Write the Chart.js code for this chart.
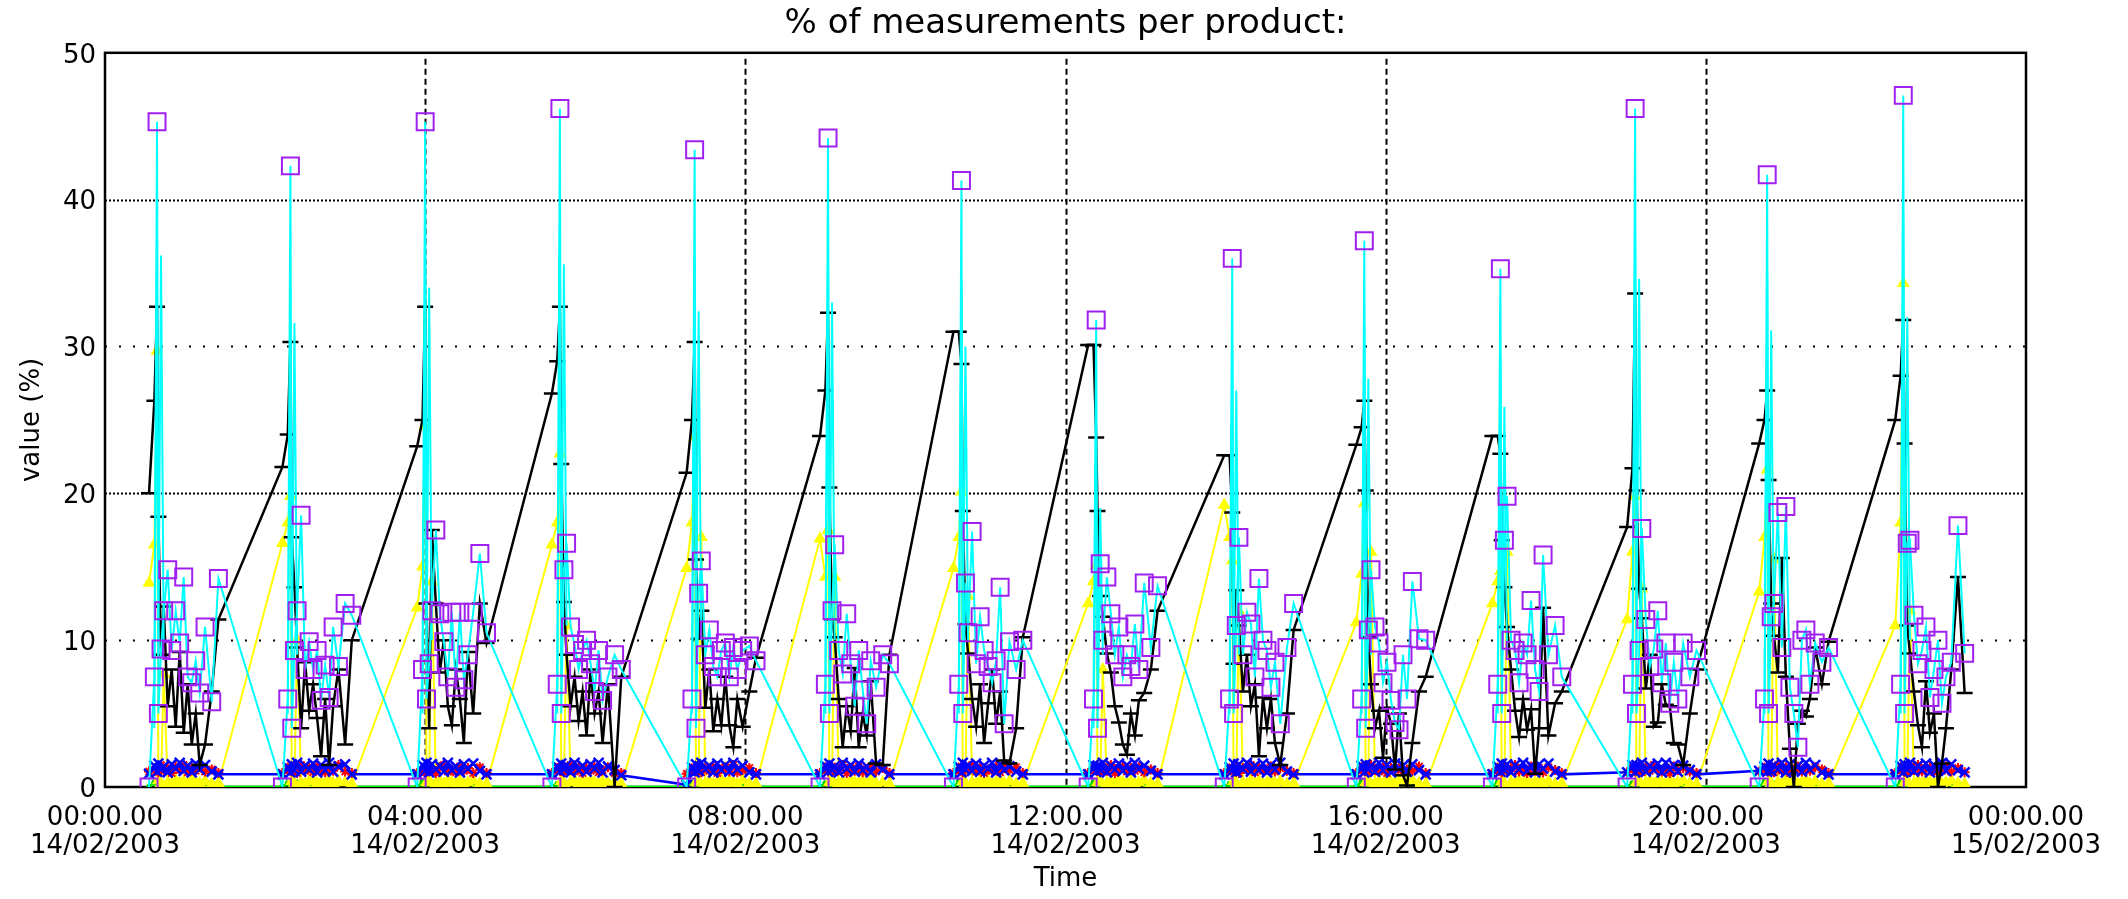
<!DOCTYPE html>
<html>
<head>
<meta charset="utf-8">
<script src="https://cdn.jsdelivr.net/npm/chart.js@4.4.1/dist/chart.umd.min.js"></script>
<style>
  html, body { margin: 0; padding: 0; background: #ffffff; }
  canvas { display: block; }
</style>
</head>
<body>
<canvas id="c" width="2128" height="899"></canvas>
<script>
const _ = null;

// Measurement times, minutes after 00:00 14/02/2003 (one row per burst)
const times = [
  33, 37, 39, 40, 42, 44, 47, 50, 53, 56, 59, 62, 65, 68, 71, 75, 80, 85,
  133, 137, 139, 140, 142, 144, 147, 150, 153, 156, 159, 162, 165, 168, 171, 175, 180, 185,
  234, 238, 240, 241, 243, 245, 248, 251, 254, 257, 260, 263, 266, 269, 272, 276, 281, 286,
  335, 339, 341, 342, 344, 346, 349, 352, 355, 358, 361, 364, 367, 370, 373, 377, 382, 387,
  436, 440, 442, 443, 445, 447, 450, 453, 456, 459, 462, 465, 468, 471, 474, 478, 483, 488,
  536, 540, 542, 543, 545, 547, 550, 553, 556, 559, 562, 565, 568, 571, 574, 578, 583, 588,
  636, 640, 642, 643, 645, 647, 650, 653, 656, 659, 662, 665, 668, 671, 674, 678, 683, 688,
  737, 741, 743, 744, 746, 748, 751, 754, 757, 760, 763, 766, 769, 772, 775, 779, 784, 789,
  839, 843, 845, 846, 848, 850, 853, 856, 859, 862, 865, 868, 871, 874, 877, 881, 886, 891,
  938, 942, 944, 945, 947, 949, 952, 955, 958, 961, 964, 967, 970, 973, 976, 980, 985, 990,
  1040, 1044, 1046, 1047, 1049, 1051, 1054, 1057, 1060, 1063, 1066, 1069, 1072, 1075, 1078, 1082, 1087, 1092,
  1141, 1145, 1147, 1148, 1150, 1152, 1155, 1158, 1161, 1164, 1167, 1170, 1173, 1176, 1179, 1183, 1188, 1193,
  1240, 1244, 1246, 1247, 1249, 1251, 1254, 1257, 1260, 1263, 1266, 1269, 1272, 1275, 1278, 1282, 1287, 1292,
  1342, 1346, 1348, 1349, 1351, 1353, 1356, 1359, 1362, 1365, 1368, 1371, 1374, 1377, 1380, 1384, 1389, 1394
];

// Cyan product (purple square markers)
const cyanPct = [
  0, 7.5, 45.3, 5, 9.4, 12, 14.8, 9.3, 12, 9.8, 14.3, 7.5, 7.1, 8.6, 6.4, 10.9, 5.8, 14.2,
  0, 6, 42.3, 4, 9.3, 12, 18.5, 8.0, 9.9, 8.0, 9.3, 5.9, 8.3, 6.1, 10.9, 8.2, 12.5, 11.7,
  0, 8, 45.3, 6, 8.4, 12, 17.5, 11.8, 9.9, 7.5, 11.9, 6.8, 11.9, 7.3, 9.0, 11.9, 15.9, 10.5,
  0, 7, 46.2, 5, 14.8, 16.6, 10.9, 9.7, 8.0, 9.3, 10.0, 8.4, 6.5, 9.3, 5.9, 7.5, 9.0, 8.0,
  0, 6, 43.4, 4, 13.2, 15.4, 9.0, 10.7, 8.2, 7.5, 9.3, 9.8, 7.5, 9.5, 8.0, 9.3, 9.6, 8.6,
  0, 7, 44.2, 5, 12.0, 16.5, 9.3, 7.7, 11.8, 8.4, 5.5, 9.3, 6.6, 4.3, 8.6, 6.8, 9.0, 8.4,
  0, 7, 41.3, 5, 13.9, 10.5, 17.4, 8.4, 11.6, 9.3, 8.2, 7.1, 8.6, 13.6, 4.3, 9.9, 8.0, 10.0,
  0, 6, 31.8, 4, 15.2, 10.0, 14.3, 11.8, 9.0, 10.9, 7.5, 9.0, 8.2, 11.1, 8.0, 13.9, 9.5, 13.7,
  0, 6, 36.0, 5, 11.0, 17.0, 9.0, 11.9, 11.1, 7.5, 14.2, 10.0, 9.3, 6.8, 8.5, 4.3, 9.5, 12.5,
  0, 6, 37.2, 4, 10.7, 14.8, 10.9, 9.8, 7.1, 8.5, 5.9, 4.4, 3.9, 9.0, 6.0, 14.0, 10.1, 10.0,
  0, 7, 35.3, 5, 16.8, 19.8, 10.0, 9.3, 7.1, 9.8, 9.0, 12.7, 8.0, 6.5, 15.8, 9.0, 11.0, 7.5,
  0, 7, 46.2, 5, 9.3, 17.6, 11.4, 8.2, 9.4, 12.0, 7.1, 9.8, 5.7, 8.5, 6.0, 9.8, 7.5, 9.3,
  0, 6, 41.7, 5, 11.6, 12.5, 18.7, 9.5, 19.1, 6.8, 5.0, 2.7, 10.0, 10.7, 7.0, 9.8, 8.5, 9.5,
  0, 7, 47.1, 5, 16.6, 16.8, 11.7, 8.4, 9.3, 10.9, 6.1, 8.0, 10.0, 5.7, 7.5, 8.5, 17.8, 9.1
];

// Second cyan trace (no markers), short spikes next to each peak
const cyanSecondary = [
  _, 4, 37.7, 9, 36.2, 10, _, _, _, _, _, _, _, _, _, _, _, _,
  _, 5, 34.0, 8, 31.6, 9, _, _, _, _, _, _, _, _, _, _, _, _,
  _, 5, 36.3, 8, 34.0, 10, _, _, _, _, _, _, _, _, _, _, _, _,
  _, 5, 38.2, 9, 35.6, 11, _, _, _, _, _, _, _, _, _, _, _, _,
  _, 5, 35.8, 8, 32.4, 10, _, _, _, _, _, _, _, _, _, _, _, _,
  _, 5, 36.1, 9, 33.0, 10, _, _, _, _, _, _, _, _, _, _, _, _,
  _, 5, 34.4, 9, 30.0, 10, _, _, _, _, _, _, _, _, _, _, _, _,
  _, 4, 21.0, 8, 19.0, 9, _, _, _, _, _, _, _, _, _, _, _, _,
  _, 5, 30.1, 8, 27.0, 9, _, _, _, _, _, _, _, _, _, _, _, _,
  _, 5, 31.6, 8, 27.8, 9, _, _, _, _, _, _, _, _, _, _, _, _,
  _, 5, 29.3, 8, 25.9, 9, _, _, _, _, _, _, _, _, _, _, _, _,
  _, 5, 37.4, 9, 34.6, 10, _, _, _, _, _, _, _, _, _, _, _, _,
  _, 5, 34.7, 8, 31.1, 10, _, _, _, _, _, _, _, _, _, _, _, _,
  _, 5, 39.1, 9, 32.0, 10, _, _, _, _, _, _, _, _, _, _, _, _
];

// Black product (dash markers)
const blackPct = [
  20.0, 26.3, 32.7, 18.4, 9.0, 12.3, 5.5, 8.0, 4.1, 9.2, 3.7, 7.0, 2.9, 5.0, 1.5, 2.9, 6.5, 11.4,
  21.8, 24.0, 30.3, 17.0, 13.6, 9.5, 4.0, 8.5, 5.2, 7.0, 4.7, 2.1, 6.0, 1.5, 5.5, 8.0, 2.9, 10.0,
  23.2, 25.0, 32.7, 12.5, 4.0, 17.5, 12.5, 7.8, 10.0, 5.5, 4.2, 8.0, 6.0, 3.0, 9.2, 5.0, 12.5, 9.8,
  26.8, 29.0, 32.7, 22.0, 12.6, 9.0, 5.5, 7.5, 4.5, 6.5, 3.5, 8.0, 5.0, 6.5, 3.0, 7.0, 0.0, 7.5,
  21.4, 25.0, 30.3, 15.5, 10.1, 12.0, 5.4, 8.0, 3.8, 6.0, 4.2, 7.5, 4.2, 2.7, 6.0, 4.1, 6.5, 8.8,
  23.9, 27.0, 32.3, 20.4, 11.4, 10.2, 6.0, 2.7, 5.5, 3.8, 8.1, 2.7, 5.0, 3.5, 7.2, 1.6, 1.5, 9.0,
  31.0, 31.0, 28.8, 18.8, 11.1, 9.1, 6.0, 4.1, 7.0, 3.0, 5.7, 8.0, 4.3, 6.5, 1.8, 1.6, 4.0, 10.2,
  30.1, 30.1, 23.8, 18.8, 13.0, 11.6, 9.1, 7.8, 5.5, 4.4, 2.9, 2.2, 5.0, 3.5, 5.9, 6.4, 8.0, 12.0,
  22.6, 22.6, 18.7, 8.4, 13.4, 11.0, 6.5, 9.0, 5.5, 7.0, 2.1, 6.1, 4.0, 6.0, 3.0, 1.5, 5.0, 10.7,
  23.3, 24.5, 26.3, 20.2, 10.2, 7.0, 4.0, 5.2, 2.0, 5.4, 4.3, 1.2, 5.0, 0.8, 0.1, 3.0, 6.5, 7.5,
  23.9, 23.9, 22.7, 16.8, 13.6, 10.9, 8.0, 5.2, 3.4, 6.0, 3.9, 5.3, 0.9, 4.0, 12.2, 3.5, 5.7, 6.5,
  17.7, 21.7, 33.6, 20.2, 13.5, 11.5, 6.7, 9.0, 4.1, 4.4, 7.0, 5.6, 5.5, 3.0, 2.9, 1.5, 5.0, 8.0,
  23.4, 25.0, 27.0, 20.9, 12.5, 10.3, 7.8, 15.6, 7.5, 2.6, 0.0, 4.3, 5.2, 4.8, 6.0, 9.5, 7.0, 9.9,
  25.0, 28.0, 31.8, 23.4, 11.0, 9.1, 6.5, 4.2, 2.7, 7.2, 3.7, 5.0, 0.0, 1.6, 4.0, 8.0, 14.3, 6.4
];

// Yellow product (triangle markers)
const yellowPct = [
  13.9, 16.5, 29.7, 0.45, 0.25, 7.7, 0.3, 0.2, 0.45, 0.25, 0.4, 0.2, 0.45, 0.3, 0.25, 0.4, 0.2, 0.25,
  16.6, 18.0, 19.8, 0.4, 0.25, 10.0, 0.3, 0.2, 0.4, 0.45, 0.25, 0.3, 0.2, 0.45, 0.25, 0.4, 0.3, 0.2,
  12.2, 15.0, 24.6, 0.3, 0.45, 14.0, 0.25, 0.4, 0.2, 0.45, 0.3, 0.25, 0.4, 0.2, 0.3, 0.45, 0.25, 0.2,
  16.5, 18.0, 22.7, 0.4, 0.25, 11.0, 0.3, 0.45, 0.2, 0.4, 0.25, 0.45, 0.3, 0.2, 0.4, 0.25, 0.3, 0.2,
  14.9, 18.0, 23.8, 0.3, 0.45, 17.0, 0.25, 0.4, 0.2, 0.3, 0.45, 0.25, 0.4, 0.3, 0.2, 0.45, 0.25, 0.2,
  16.9, 14.3, 17.5, 0.3, 0.45, 14.3, 0.25, 0.4, 0.2, 0.45, 0.3, 0.25, 0.4, 0.2, 0.45, 0.25, 0.3, 0.2,
  14.9, 17.0, 20.1, 0.4, 0.25, 13.0, 0.3, 0.2, 0.45, 0.25, 0.4, 0.2, 0.3, 0.45, 0.25, 0.4, 0.2, 0.25,
  12.5, 14.0, 15.1, 0.3, 0.45, 8.0, 0.25, 0.4, 0.2, 0.45, 0.3, 0.25, 0.4, 0.2, 0.3, 0.45, 0.25, 0.2,
  19.2, 17.0, 15.4, 0.4, 0.25, 12.0, 0.3, 0.2, 0.45, 0.25, 0.4, 0.2, 0.3, 0.45, 0.25, 0.4, 0.2, 0.25,
  11.2, 14.5, 19.3, 0.3, 0.45, 16.0, 0.25, 0.4, 0.2, 0.45, 0.3, 0.25, 0.4, 0.2, 0.3, 0.45, 0.25, 0.2,
  12.5, 14.0, 14.7, 0.4, 0.25, 16.0, 0.3, 0.2, 0.45, 0.25, 0.4, 0.2, 0.3, 0.45, 0.25, 0.4, 0.2, 0.25,
  11.4, 16.0, 19.8, 0.3, 0.45, 13.5, 0.25, 0.4, 0.2, 0.45, 0.3, 0.25, 0.4, 0.2, 0.3, 0.45, 0.25, 0.2,
  13.3, 17.0, 21.6, 0.4, 0.25, 15.5, 0.3, 0.2, 0.45, 0.25, 0.4, 0.2, 0.3, 0.45, 0.25, 0.4, 0.2, 0.25,
  11.0, 18.0, 34.3, 0.3, 0.45, 12.0, 0.25, 0.4, 0.2, 0.45, 0.3, 0.25, 0.4, 0.2, 0.3, 0.45, 0.25, 0.2
];

// Blue product (x markers)
const bluePct = [
  0.9, 1.45, 1.05, 1.6, 1.2, 1.4, 1.0, 1.55, 1.25, 1.65, 1.1, 1.45, 1.0, 1.6, 1.2, 1.5, 1.05, 0.86,
  0.86, 1.35, 1.0, 1.55, 1.15, 1.65, 1.05, 1.45, 1.2, 1.6, 1.0, 1.5, 1.15, 1.65, 1.05, 1.4, 1.55, 0.86,
  0.86, 1.5, 1.1, 1.65, 1.0, 1.55, 1.2, 1.45, 1.05, 1.65, 1.15, 1.4, 1.0, 1.55, 1.25, 1.6, 1.1, 0.86,
  0.86, 1.4, 1.05, 1.6, 1.2, 1.5, 1.0, 1.65, 1.15, 1.45, 1.05, 1.55, 1.25, 1.65, 1.0, 1.4, 1.15, 0.8,
  0.15, 1.35, 1.0, 1.55, 1.1, 1.65, 1.2, 1.45, 1.0, 1.6, 1.15, 1.5, 1.05, 1.65, 1.2, 1.45, 1.0, 0.86,
  0.86, 1.45, 1.05, 1.6, 1.15, 1.4, 1.0, 1.65, 1.25, 1.5, 1.05, 1.6, 1.15, 1.4, 1.0, 1.55, 1.2, 0.86,
  0.86, 1.4, 1.0, 1.65, 1.2, 1.5, 1.1, 1.6, 1.05, 1.45, 1.25, 1.65, 1.0, 1.55, 1.15, 1.4, 1.05, 0.86,
  0.86, 1.5, 1.05, 1.45, 1.15, 1.65, 1.0, 1.45, 1.2, 1.6, 1.1, 1.5, 1.0, 1.65, 1.25, 1.45, 1.1, 0.86,
  0.86, 1.35, 1.1, 1.6, 1.0, 1.55, 1.2, 1.65, 1.05, 1.45, 1.15, 1.6, 1.0, 1.5, 1.2, 1.65, 1.05, 0.86,
  0.86, 1.45, 1.0, 1.55, 1.2, 1.45, 1.05, 1.65, 1.15, 1.5, 1.0, 1.6, 1.25, 1.45, 1.05, 1.55, 1.15, 0.86,
  0.86, 1.4, 1.05, 1.6, 1.15, 1.55, 1.0, 1.5, 1.2, 1.65, 1.1, 1.45, 1.0, 1.55, 1.25, 1.6, 1.05, 0.86,
  1.0, 1.5, 1.0, 1.5, 1.2, 1.65, 1.05, 1.45, 1.15, 1.6, 1.0, 1.65, 1.2, 1.5, 1.05, 1.45, 1.15, 0.86,
  1.1, 1.4, 1.05, 1.6, 1.1, 1.5, 1.2, 1.65, 1.0, 1.55, 1.15, 1.45, 1.05, 1.65, 1.2, 1.5, 1.0, 0.86,
  0.86, 1.45, 1.0, 1.55, 1.2, 1.65, 1.05, 1.45, 1.15, 1.6, 1.0, 1.5, 1.25, 1.65, 1.1, 1.55, 1.15, 1.0
];

// Red product (star markers)
const redPct = [
  1.05, 1.15, 1.35, 1.0, 1.5, 1.1, 1.3, 0.95, 1.4, 1.15, 1.5, 1.0, 1.3, 1.1, 1.4, 1.05, 1.2, 0.95,
  0.95, 1.2, 1.4, 1.05, 1.3, 0.95, 1.5, 1.1, 1.35, 1.0, 1.4, 1.15, 1.0, 1.35, 1.1, 1.5, 1.05, 0.95,
  0.95, 1.1, 1.3, 1.0, 1.4, 1.15, 0.95, 1.35, 1.5, 1.05, 1.2, 1.0, 1.4, 1.1, 1.3, 0.95, 1.35, 0.95,
  0.95, 1.3, 1.1, 1.4, 1.0, 1.2, 1.5, 1.05, 1.35, 0.95, 1.3, 1.1, 1.4, 1.0, 1.15, 1.35, 0.95, 0.95,
  0.9, 1.15, 1.35, 1.05, 1.5, 1.0, 1.3, 1.1, 1.4, 0.95, 1.2, 1.35, 1.05, 1.5, 1.0, 1.15, 1.3, 0.95,
  0.95, 1.35, 1.05, 1.2, 1.4, 1.0, 1.15, 1.5, 0.95, 1.3, 1.1, 1.4, 1.0, 1.2, 1.35, 1.05, 1.3, 0.95,
  0.95, 1.1, 1.4, 1.0, 1.3, 1.15, 1.5, 1.05, 1.35, 0.95, 1.2, 1.1, 1.4, 1.0, 1.3, 1.15, 1.35, 0.95,
  0.95, 1.3, 1.15, 1.4, 1.0, 1.35, 1.1, 1.5, 0.95, 1.2, 1.4, 1.05, 1.3, 1.1, 1.35, 1.0, 1.2, 0.95,
  0.95, 1.2, 1.35, 1.05, 1.4, 0.95, 1.3, 1.15, 1.5, 1.0, 1.35, 1.1, 1.2, 1.4, 1.05, 1.3, 1.1, 0.95,
  0.95, 1.35, 1.1, 1.3, 1.0, 1.5, 1.15, 1.05, 1.4, 0.95, 1.3, 1.15, 1.35, 1.0, 1.2, 1.1, 1.4, 0.95,
  0.95, 1.15, 1.4, 1.0, 1.35, 1.1, 1.3, 1.5, 1.05, 1.2, 0.95, 1.4, 1.1, 1.3, 1.0, 1.35, 1.15, 0.95,
  1.0, 1.3, 1.05, 1.4, 1.15, 1.0, 1.35, 1.1, 1.5, 1.2, 1.05, 1.3, 0.95, 1.4, 1.15, 1.3, 1.05, 0.95,
  1.05, 1.2, 1.4, 1.05, 1.3, 1.0, 1.5, 1.1, 1.35, 0.95, 1.2, 1.4, 1.05, 1.3, 1.1, 1.35, 1.2, 0.95,
  0.95, 1.35, 1.1, 1.3, 0.95, 1.4, 1.15, 1.5, 1.05, 1.2, 1.35, 1.0, 1.3, 1.1, 1.4, 1.05, 1.3, 1.0
];

// Green product (small dot markers)
const greenPct = [
  0, 0.3, 0, 0.2, 0.35, 0.1, 0.3, 0, 0.25, 0.35, 0.1, 0.3, 0.2, 0, 0.35, 0.2, 0.3, 0,
  0, 0.25, 0.1, 0.35, 0, 0.3, 0.2, 0.35, 0, 0.25, 0.3, 0.1, 0.35, 0.2, 0, 0.3, 0.25, 0,
  0, 0.35, 0, 0.25, 0.3, 0.1, 0.35, 0.2, 0, 0.3, 0.25, 0.1, 0.35, 0, 0.3, 0.2, 0.1, 0,
  0, 0.2, 0.1, 0.3, 0.35, 0, 0.25, 0.3, 0.1, 0.35, 0.2, 0, 0.3, 0.25, 0.1, 0.35, 0.2, 0,
  0, 0.3, 0, 0.35, 0.2, 0.1, 0.3, 0.25, 0, 0.35, 0.1, 0.3, 0.2, 0.35, 0, 0.25, 0.3, 0,
  0, 0.25, 0.1, 0.3, 0, 0.35, 0.2, 0.1, 0.3, 0.25, 0, 0.35, 0.1, 0.3, 0.2, 0, 0.35, 0,
  0, 0.35, 0, 0.2, 0.3, 0.1, 0.35, 0, 0.25, 0.3, 0.1, 0.2, 0.35, 0, 0.3, 0.25, 0.1, 0,
  0, 0.3, 0.1, 0.35, 0.2, 0, 0.3, 0.25, 0.1, 0.35, 0, 0.3, 0.2, 0.1, 0.35, 0.2, 0.3, 0,
  0, 0.2, 0, 0.3, 0.35, 0.1, 0.25, 0.3, 0, 0.35, 0.2, 0.1, 0.3, 0.25, 0, 0.35, 0.2, 0,
  0, 0.35, 0.1, 0.25, 0, 0.3, 0.35, 0.1, 0.2, 0.3, 0, 0.35, 0.25, 0.1, 0.3, 0.2, 0.35, 0,
  0, 0.3, 0, 0.35, 0.2, 0.1, 0.3, 0, 0.35, 0.25, 0.1, 0.3, 0.2, 0.35, 0, 0.3, 0.1, 0,
  0, 0.25, 0.1, 0.3, 0.35, 0, 0.2, 0.3, 0.1, 0.35, 0.25, 0, 0.3, 0.2, 0.35, 0.1, 0.3, 0,
  0, 0.35, 0, 0.2, 0.3, 0.25, 0.1, 0.35, 0, 0.3, 0.2, 0.35, 0.1, 0.25, 0.3, 0, 0.2, 0,
  0, 0.3, 0.1, 0.35, 0, 0.25, 0.3, 0.1, 0.35, 0.2, 0, 0.3, 0.25, 0.1, 0.35, 0.2, 0.3, 0
];

// Axis tick labels
const xTickTimes = ['00:00.00', '04:00.00', '08:00.00', '12:00.00', '16:00.00', '20:00.00', '00:00.00'];
const xTickDates = ['14/02/2003', '14/02/2003', '14/02/2003', '14/02/2003', '14/02/2003', '14/02/2003', '15/02/2003'];
const yTickValues = [0, 10, 20, 30, 40, 50];

const pts = (vals) => times.map((t, i) => ({ x: t, y: vals[i] }));

const FONT = "'DejaVu Sans', 'Liberation Sans', sans-serif";
Chart.defaults.font.family = FONT;
Chart.defaults.color = '#000000';

const refGrid = {
  id: 'refGrid',
  beforeDatasetsDraw(chart) {
    const { ctx, chartArea: a, scales: { x, y } } = chart;
    ctx.save();
    ctx.strokeStyle = '#000000';
    ctx.lineWidth = 2;
    yTickValues.filter(v => v > y.min && v < y.max).forEach(v => {
      const py = Math.round(y.getPixelForValue(v)) + 0.5;
      ctx.setLineDash((v / 10) % 2 === 0 ? [2, 2] : [2, 12]);
      ctx.beginPath(); ctx.moveTo(a.left, py); ctx.lineTo(a.right, py); ctx.stroke();
    });
    ctx.setLineDash([6, 4]);
    x.ticks.map(t => t.value).filter(v => v > x.min && v < x.max).forEach(v => {
      const px = Math.round(x.getPixelForValue(v)) + 0.5;
      ctx.beginPath(); ctx.moveTo(px, a.top + 6); ctx.lineTo(px, a.bottom); ctx.stroke();
    });
    ctx.setLineDash([]);
    ctx.lineWidth = 2.5;
    ctx.strokeRect(a.left, a.top, a.right - a.left, a.bottom - a.top);
    ctx.restore();
  }
};

new Chart(document.getElementById('c'), {
  type: 'line',
  data: {
    datasets: [
      {
        label: 'cyan', data: pts(cyanPct), borderColor: '#00FFFF', borderWidth: 2,
        pointStyle: 'rect', pointRadius: 12, pointBorderColor: '#A020F0', pointBackgroundColor: 'rgba(0,0,0,0)',
        pointBorderWidth: 2, tension: 0
      },
      {
        label: 'cyan2', data: pts(cyanSecondary), borderColor: '#00FFFF', borderWidth: 2,
        pointRadius: 0, spanGaps: false, tension: 0
      },
      {
        label: 'black', data: pts(blackPct), borderColor: '#000000', borderWidth: 2.5,
        pointStyle: 'line', pointRadius: 8, pointBorderColor: '#000000', pointBorderWidth: 2.5, tension: 0
      },
      {
        label: 'blue', data: pts(bluePct), borderColor: '#0000FF', borderWidth: 2.5,
        pointStyle: 'crossRot', pointRadius: 7, pointBorderColor: '#0000FF', pointBorderWidth: 2.5, tension: 0
      },
      {
        label: 'red', data: pts(redPct), showLine: false,
        pointStyle: 'star', pointRadius: 5, pointBorderColor: '#FF0000', pointBorderWidth: 2
      },
      {
        label: 'yellow', data: pts(yellowPct), borderColor: '#FFFF00', borderWidth: 2,
        pointStyle: 'triangle', pointRadius: 6, pointBorderColor: '#FFFF00', pointBackgroundColor: '#FFFF00',
        pointBorderWidth: 1.5, tension: 0
      },
      {
        label: 'green', data: pts(greenPct), borderColor: '#00FF00', borderWidth: 3,
        pointStyle: 'circle', pointRadius: 1.5, pointBorderColor: '#00CC00', pointBackgroundColor: '#00FF00', tension: 0
      }
    ]
  },
  options: {
    responsive: false,
    devicePixelRatio: 1,
    animation: false,
    events: [],
    layout: { padding: { left: 0, right: 102, top: 0, bottom: 0 } },
    plugins: {
      legend: { display: false },
      tooltip: { enabled: false },
      title: {
        display: true,
        fullSize: false,
        text: '% of measurements per product:',
        color: '#000000',
        font: { family: FONT, size: 34, weight: 'normal', lineHeight: 1.2 },
        padding: { top: 4, bottom: 8 }
      }
    },
    scales: {
      x: {
        type: 'linear', min: 0, max: 1440,
        grid: { display: false, drawTicks: false },
        border: { display: false },
        ticks: {
          stepSize: 240, autoSkip: false, maxRotation: 0, minRotation: 0,
          color: '#000000', padding: 17,
          font: { family: FONT, size: 26, lineHeight: 1.08 },
          callback: (v, i) => [xTickTimes[i], xTickDates[i]]
        },
        title: {
          display: true, text: 'Time', color: '#000000',
          font: { family: FONT, size: 26, lineHeight: 1.08 },
          padding: { top: 0, bottom: 6 }
        },
        afterFit(s) { s.height = 112; }
      },
      y: {
        min: 0, max: 50,
        grid: { display: false, drawTicks: false },
        border: { display: false },
        afterBuildTicks(s) { s.ticks = yTickValues.map(v => ({ value: v })); },
        ticks: {
          color: '#000000', padding: 9, labelOffset: 3,
          font: { family: FONT, size: 26 }
        },
        title: {
          display: true, text: 'value (%)', color: '#000000',
          font: { family: FONT, size: 26, lineHeight: 1.08 },
          padding: { top: 18, bottom: 0 }
        },
        afterFit(s) { s.width = 105; }
      }
    }
  },
  plugins: [refGrid]
});
</script>
</body>
</html>
